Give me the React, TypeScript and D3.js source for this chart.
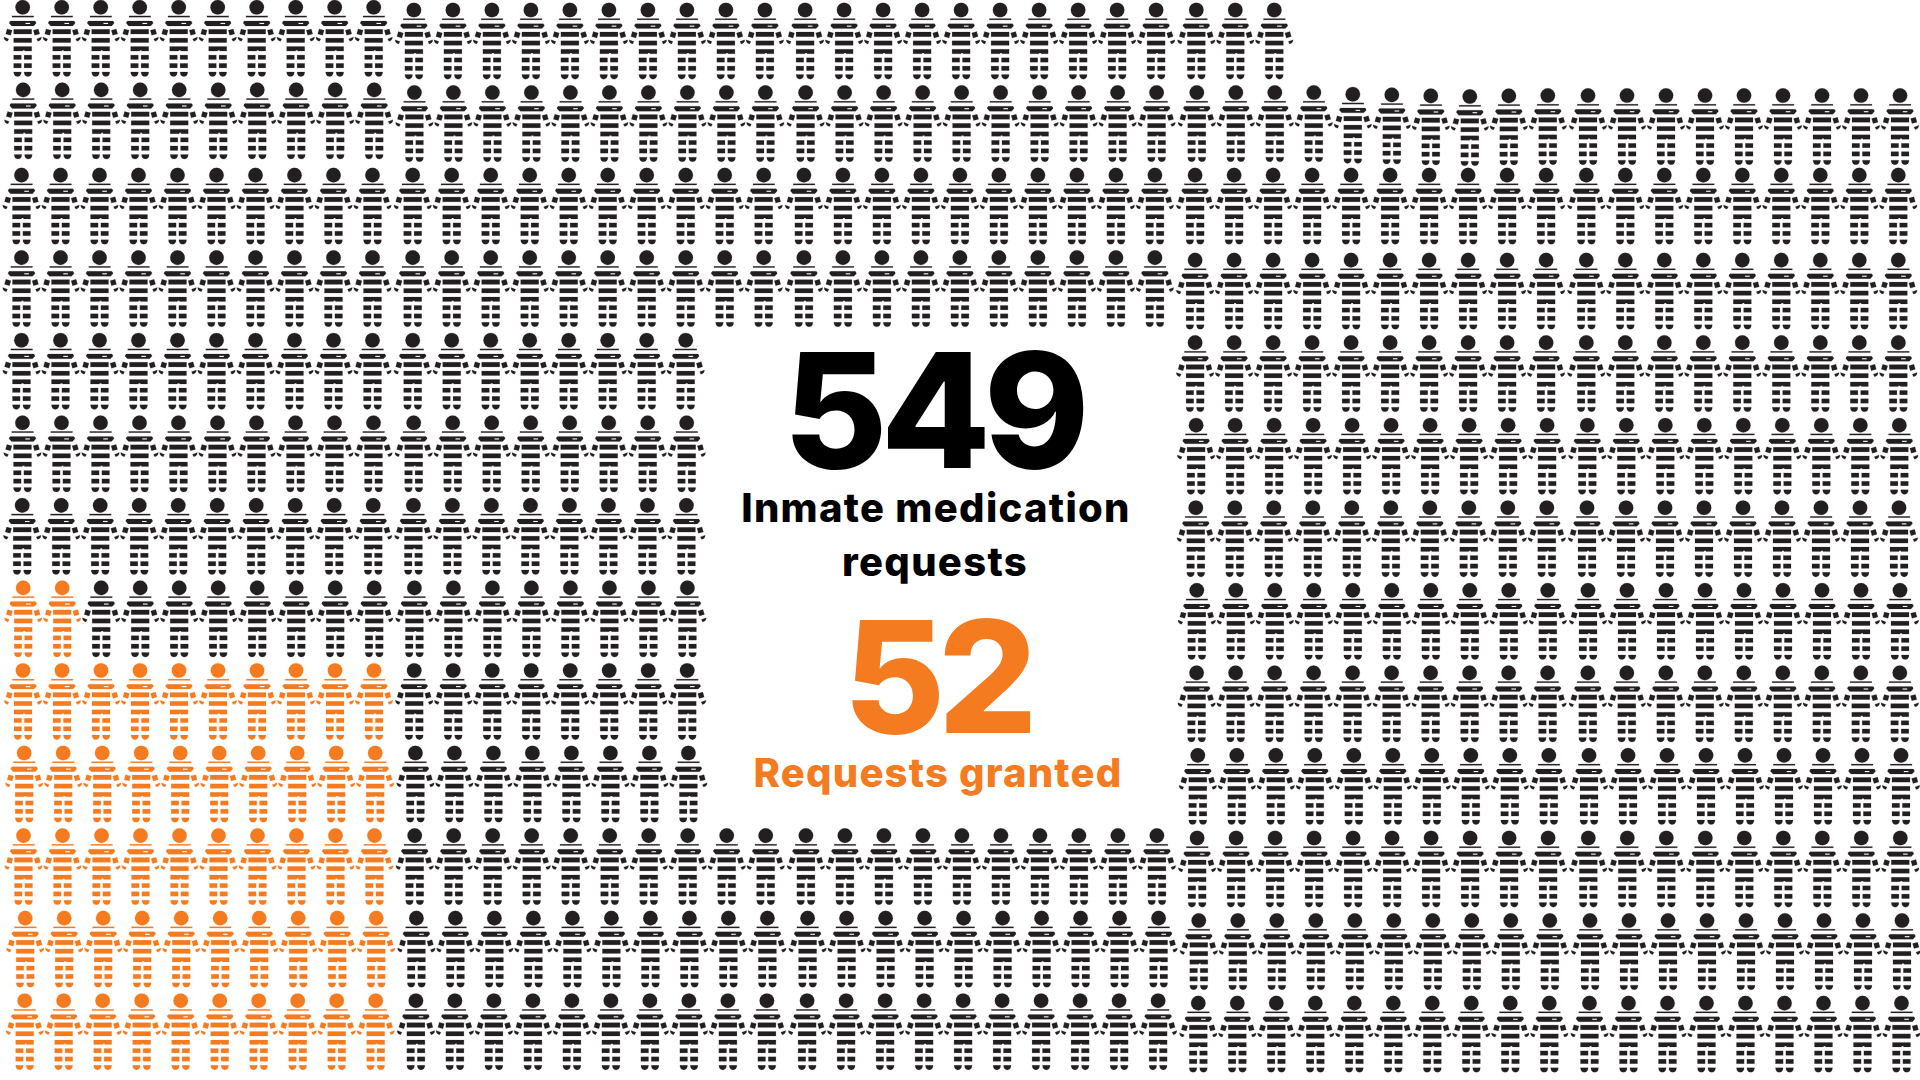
import { useEffect, useRef } from "react";
import * as d3 from "d3";

const totalRequests = 549;
const grantedRequests = 52;
const rowIndex = d3.range(13);
// how many figures sit left of the text hole, and how many right of it
const leftCounts = [33, 49, 49, 49, 18, 18, 18, 18, 18, 18, 49, 49, 49];
const rightCounts = [0, 0, 0, 0, 19, 19, 19, 19, 19, 19, 0, 0, 0];
const grantedCounts = [0, 0, 0, 0, 0, 0, 0, 2, 10, 10, 10, 10, 10];
const COLS = 49;
const RIGHT_START = 30;
const GROUP_SIZE = 10;

const DARK = "#231f20";
const ORANGE = "#f47b20";

// the figures were pasted in by hand, so rows and blocks sit slightly off grid
const rowDrift = [0, 0.5, -1.2, -1.2, -1.2, -0.2, -0.5, 0.5, 0.3, 1.5, 0.8, 2.5, 2];
const rightBlockDrop = 2.4;
const topLeftRaise = 2.7;
const secondRowSag: Record<number, number> = { 34: 1.7, 35: 2.3, 36: 3.3, 37: 4, 38: 3.3 };

type Figure = { row: number; col: number; granted: boolean };

const figures: Figure[] = rowIndex.flatMap((row) => {
  const cols = [
    ...d3.range(leftCounts[row]),
    ...d3.range(rightCounts[row]).map((c) => c + RIGHT_START),
  ];
  return cols.map((col) => ({ row, col, granted: col < grantedCounts[row] }));
});

function rowNudge({ row, col }: Figure) {
  if (row < 2 && col < GROUP_SIZE) return -topLeftRaise;
  if (row === 1) return secondRowSag[col] ?? (col > 38 ? 3 : 0);
  if (row > 2 && col >= RIGHT_START) return rightBlockDrop;
  return 0;
}

export default function App() {
  const svgRef = useRef<SVGSVGElement | null>(null);

  useEffect(() => {
    if (!svgRef.current) return;
    const svg = d3.select(svgRef.current);
    svg.selectAll("*").remove();

    const x = d3.scaleLinear().domain([0, COLS - 1]).range([22.7, 1894.7]);
    // every ten columns the spacing opens up a little
    const groupGap = d3.scaleLinear().domain([0, 4]).range([0, 4.8]);
    const y = d3.scaleLinear().domain([0, 12]).range([10, 1000.7]);

    // one inmate figure, origin at the centre of the head
    const symbol = svg.append("defs").append("g").attr("id", "inmate");
    symbol.append("circle").attr("r", 7.3);
    const bars = [
      [-10.7, 8.6, 21.7, 1.3],
      [-9, 22, 18, 4.7],
      [-9, 30.8, 18, 4.5],
      [-9, 47.8, 7.6, 4.4],
      [1.4, 47.8, 7.6, 4.4],
      [-9, 56.1, 7.6, 4.5],
      [1.4, 56.1, 7.6, 4.5],
    ];
    symbol
      .selectAll("rect.bar")
      .data(bars)
      .join("rect")
      .attr("class", "bar")
      .attr("x", (d) => d[0])
      .attr("y", (d) => d[1])
      .attr("width", (d) => d[2])
      .attr("height", (d) => d[3]);
    symbol
      .append("path")
      .attr(
        "d",
        "M-12.2,13.7H12.2Q13.6,14.4 13.4,16L11,18.6H-11L-13.4,16Q-13.6,14.4 -12.2,13.7Z",
      );
    symbol.append("path").attr("d", "M-9,39.3H9V43.8H2V43H0V43.8H-9Z");
    symbol.append("path").attr("d", "M-9,64.6H-1.4C-1.4,67.5 -3,69.2 -5.2,69.2C-7.4,69.2 -9,67.5 -9,64.6Z");
    symbol.append("path").attr("d", "M1.4,64.6H9C9,67.5 7.4,69.2 5.2,69.2C3,69.2 1.4,67.5 1.4,64.6Z");
    // arms
    symbol.append("path").attr("d", "M-15.6,21.6L-10.6,23L-12,28L-17,26.6Z");
    symbol.append("path").attr("d", "M15.6,21.6L10.6,23L12,28L17,26.6Z");
    symbol.append("path").attr("d", "M-18.8,29.8L-14,31.6L-15.2,34C-17.2,33.8 -18.8,32.2 -18.8,29.8Z");
    symbol.append("path").attr("d", "M18.8,29.8L14,31.6L15.2,34C17.2,33.8 18.8,32.2 18.8,29.8Z");
    symbol
      .append("rect")
      .attr("x", 2.8)
      .attr("y", 15.6)
      .attr("width", 4.6)
      .attr("height", 1.1)
      .attr("fill", "#fff")
      .attr("stroke", "none");

    svg
      .append("g")
      .attr("stroke-width", 0.7)
      .attr("stroke-opacity", 0.25)
      .selectAll("use")
      .data(figures)
      .join("use")
      .attr("href", "#inmate")
      .attr("x", (d) => x(d.col) + groupGap(Math.floor(d.col / GROUP_SIZE)) + rowDrift[d.row])
      .attr("y", (d) => y(d.row) + rowNudge(d))
      .attr("fill", (d) => (d.granted ? ORANGE : DARK))
      .attr("stroke", (d) => (d.granted ? ORANGE : DARK));

    const labels = [
      { text: String(totalRequests), cx: 933, base: 468, size: 160, spacing: -7, family: "Inter", weight: 800, fill: "#000" },
      { text: "Inmate medication", cx: 936, base: 522, size: 40, spacing: 1.3, family: "Inter", weight: 800, fill: "#000" },
      { text: "requests", cx: 935, base: 576, size: 40, spacing: 1.3, family: "Inter", weight: 800, fill: "#000" },
      { text: String(grantedRequests), cx: 937, base: 733, size: 156, spacing: -7, family: "Inter", weight: 800, fill: ORANGE },
      { text: "Requests granted", cx: 938, base: 787, size: 40, spacing: 1.2, family: "Inter", weight: 800, fill: ORANGE },
    ];
    svg
      .append("g")
      .selectAll("text")
      .data(labels)
      .join("text")
      .attr("x", (d) => d.cx)
      .attr("y", (d) => d.base)
      .attr("text-anchor", "middle")
      .attr("font-family", (d) => `${d.family}, sans-serif`)
      .attr("font-size", (d) => d.size)
      .attr("font-weight", (d) => d.weight)
      .attr("letter-spacing", (d) => d.spacing)
      .attr("fill", (d) => d.fill)
      .text((d) => d.text);
  }, []);

  return (
    <svg
      ref={svgRef}
      width={1920}
      height={1080}
      style={{ position: "absolute", left: 0, top: 0, background: "#fff" }}
    />
  );
}
